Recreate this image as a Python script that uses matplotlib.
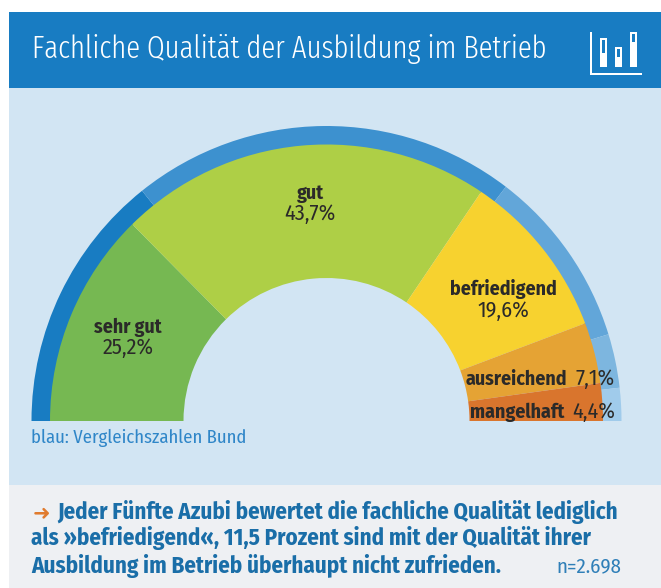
import matplotlib
matplotlib.use("Agg")
import matplotlib.pyplot as plt
from matplotlib.patches import Rectangle

W, H = 661, 588
NARROW = ['Fira Sans Condensed', 'Lato', 'DejaVu Sans']
TITLE_FONT = ['Fira Sans Extra Condensed', 'Fira Sans Condensed', 'Lato', 'DejaVu Sans']

title = "Fachliche Qualität der Ausbildung im Betrieb"
categories = ["sehr gut", "gut", "befriedigend", "ausreichend", "mangelhaft"]
values = [25.2, 43.7, 19.6, 7.1, 4.4]
bund_values = [28.5, 42.3, 19.7, 5.9, 3.6]
value_labels = ["25,2%", "43,7%", "19,6%", "7,1%", "4,4%"]
colors = ["#76b852", "#aecf46", "#f7d22f", "#e5a334", "#d9752d"]
bund_colors = ["#187cc2", "#3d91cf", "#62a6d9", "#7db6df", "#a0cbeb"]
note = "blau: Vergleichszahlen Bund"
conclusion = ["Jeder Fünfte Azubi bewertet die fachliche Qualität lediglich",
              "als »befriedigend«, 11,5 Prozent sind mit der Qualität ihrer",
              "Ausbildung im Betrieb überhaupt nicht zufrieden."]
sample = "n=2.698"

fig = plt.figure(figsize=(W / 100, H / 100), dpi=100, facecolor="white")
ax = fig.add_axes([0, 0, 1, 1])

def Y(py):
    return H - py

def half_pie(vals, cols, radius, width):
    ax.pie(vals + [sum(vals)], colors=cols + ["none"], startangle=180, counterclock=False,
           center=(326.5, Y(421)), radius=radius,
           wedgeprops=dict(width=width, linewidth=0), frame=False)

ax.add_patch(Rectangle((9, Y(88)), W - 9, 76, fc="#187cc2", lw=0))
ax.add_patch(Rectangle((9, Y(485)), W - 9, 397, fc="#d2e5f3", lw=0))
ax.add_patch(Rectangle((9, 0), W - 9, H - 485, fc="#eef0f3", lw=0))

half_pie(bund_values, bund_colors, 295, 20)
half_pie(values, colors, 276.5, 133.5)

ax.set_xlim(0, W)
ax.set_ylim(0, H)
ax.set_aspect("auto")
ax.axis("off")

# header icon
for x, y0, y1, iy0, iy1 in [(600, 38, 67, 40, 53), (615, 47, 67, 49, 57), (630, 32, 67, 34, 42)]:
    ax.add_patch(Rectangle((x, Y(y1)), 7, y1 - y0, fc="white", lw=0))
    ax.add_patch(Rectangle((x + 2, Y(iy1)), 3, iy1 - iy0, fc="#187cc2", lw=0))
ax.add_patch(Rectangle((590, Y(75)), 2, 43, fc="white", lw=0))
ax.add_patch(Rectangle((590, Y(75)), 52, 2, fc="white", lw=0))

ax.text(32, Y(58), title, color="white", fontsize=22.4, family=TITLE_FONT, fontweight=300, va="baseline", ha="left")

dark = "#2b2a29"
name_pos = [(128, 333), (310, 199), (503, 295)]
val_pos = [(128, 354), (310, 220), (503, 317)]
for i in range(3):
    ax.text(name_pos[i][0], Y(name_pos[i][1]), categories[i], color=dark, fontsize=14.3,
            fontweight="bold", family=NARROW, ha="center", va="baseline")
    ax.text(val_pos[i][0], Y(val_pos[i][1]), value_labels[i], color=dark, fontsize=16,
            family=NARROW, ha="center", va="baseline")

ax.text(466, Y(385), categories[3], color=dark, fontsize=14.3, fontweight="bold", family=NARROW, va="baseline")
ax.text(575, Y(385), value_labels[3], color=dark, fontsize=16, family=NARROW, va="baseline")
ax.text(470, Y(418), categories[4], color=dark, fontsize=14.3, fontweight="bold", family=NARROW, va="baseline")
ax.text(572, Y(418), value_labels[4], color=dark, fontsize=16, family=NARROW, va="baseline")

ax.text(31, Y(443), note, color="#2f86c8", fontsize=13.4, family=NARROW, va="baseline")

blue = "#1a6ea8"
ax.text(33, Y(519), "➜", color="#e07b2e", fontsize=15, family=['DejaVu Sans'], va="baseline")
for x, py, line in zip([57, 31, 31], [519.5, 545.5, 572.5], conclusion):
    ax.text(x, Y(py), line, color=blue, fontsize=16.5, fontweight="bold", family=NARROW, va="baseline")
ax.text(556, Y(572.5), sample, color="#2f7fb8", fontsize=15, family=NARROW, va="baseline")

fig.savefig("out.png", dpi=100, facecolor="white")
